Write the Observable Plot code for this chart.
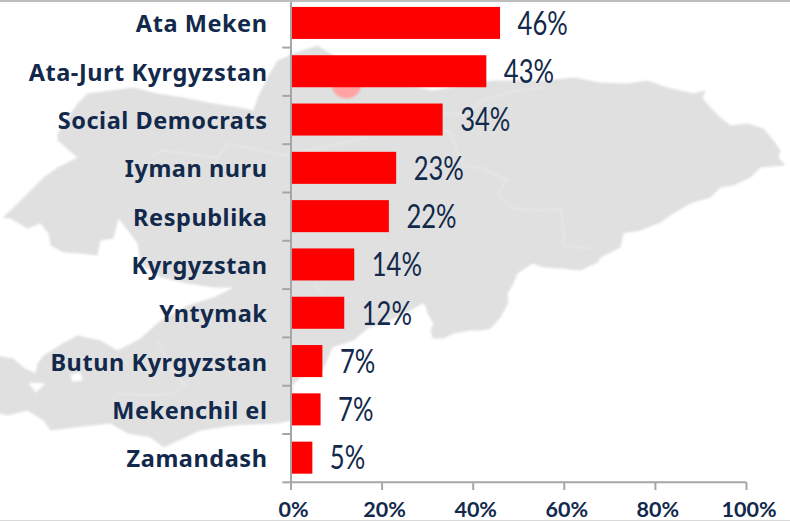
<!DOCTYPE html>
<html>
<head>
<meta charset="utf-8">
<script src="https://cdn.jsdelivr.net/npm/d3@7"></script>
<script src="https://cdn.jsdelivr.net/npm/@observablehq/plot@0.6"></script>
<style>
html,body{margin:0;padding:0;background:#fff}
#stage{position:relative;width:790px;height:521px;overflow:hidden;background:#fff}
#stage svg{position:absolute;left:0;top:0;overflow:visible}
#map svg{filter:blur(0.9px)}
#edge-top,#edge-bottom{position:absolute;left:0;width:790px;background:#bdbdbd}
#edge-top{top:0;height:2px}
#edge-bottom{top:520px;height:1px;background:#d9d9d9}
g[aria-label="y-axis tick label"] text{letter-spacing:.55px}
</style>
</head>
<body>
<div id="stage"><div id="map"></div><div id="chart"></div><div id="edge-top"></div><div id="edge-bottom"></div></div>
<script>
const parties = ["Ata Meken","Ata-Jurt Kyrgyzstan","Social Democrats","Iyman nuru","Respublika","Kyrgyzstan","Yntymak","Butun Kyrgyzstan","Mekenchil el","Zamandash"];
const barValues = [46,43,33.4,23.2,21.6,14,11.8,7,6.6,4.8];
const valueLabels = ["46%","43%","34%","23%","22%","14%","12%","7%","7%","5%"];
const xTicks = [0,20,40,60,80,100];

// Kyrgyzstan silhouette: [longitude, latitude]
const countryOutline = [[69.228,41.53],[69.382,41.63],[69.62,41.80],[69.802,41.93],[69.998,42.03],[70.278,42.13],[69.998,42.30],[69.998,42.37],[70.278,42.67],[70.418,42.77],[70.74,42.80],[71.062,42.83],[71.398,42.77],[71.762,42.73],[72.182,42.67],[72.56,42.63],[72.742,42.60],[72.798,42.73],[72.938,42.93],[73.078,43.10],[73.302,43.17],[73.638,43.25],[73.82,43.17],[73.96,43.10],[74.52,42.95],[74.94,42.85],[75.262,42.80],[75.57,42.84],[75.92,42.88],[76.102,42.90],[76.438,42.90],[76.802,42.90],[77.222,42.93],[77.6,42.88],[77.978,42.87],[78.258,42.90],[78.538,42.83],[78.902,42.77],[79.07,42.80],[79.028,42.72],[79.14,42.63],[79.28,42.53],[79.42,42.45],[79.658,42.47],[79.882,42.42],[80.022,42.30],[80.12,42.20],[80.092,42.13],[80.19,42.05],[79.84,42.03],[79.70,41.93],[79.462,41.85],[79.28,41.83],[79.14,41.73],[78.86,41.67],[78.622,41.57],[78.44,41.48],[78.16,41.40],[77.922,41.37],[77.88,41.23],[77.6,41.13],[77.558,41.08],[77.32,41.00],[77.04,41.02],[76.802,41.03],[76.648,41.07],[76.438,40.97],[76.382,40.87],[76.298,40.77],[76.312,40.68],[76.2,40.53],[76.06,40.42],[75.948,40.40],[75.78,40.40],[75.542,40.37],[75.402,40.32],[75.248,40.32],[75.22,40.40],[75.262,40.47],[75.178,40.57],[75.15,40.65],[75.108,40.67],[74.94,40.60],[74.59,40.48],[74.338,40.42],[74.142,40.30],[73.848,40.23],[73.708,40.00],[73.4,39.93],[73.288,39.85],[73.274,39.50],[73.078,39.47],[72.462,39.45],[72.0,39.40],[71.482,39.23],[71.3,39.33],[70.978,39.37],[70.74,39.47],[70.222,39.43],[69.9,39.40],[69.802,39.50],[69.578,39.60],[69.298,39.55],[69.13,39.58],[69.13,40.15],[69.382,40.12],[69.522,40.03],[69.69,39.97],[69.718,40.07],[69.802,40.15],[70.068,40.27],[70.278,40.35],[70.6,40.30],[70.838,40.20],[71.16,40.32],[71.44,40.50],[71.818,40.65],[72.182,40.73],[72.462,40.83],[72.182,40.83],[71.818,40.87],[71.44,40.93],[71.16,41.07],[71.118,41.27],[70.95,41.43],[70.852,41.52],[70.782,41.32],[70.6,41.30],[70.558,41.15],[70.32,41.17],[70.082,41.18],[69.9,41.25],[69.872,41.37],[69.76,41.47],[69.578,41.42],[69.34,41.52],[69.228,41.53]];
const enclaves = [
  [[70.18,39.96],[70.208,39.89],[70.348,39.90],[70.32,39.98],[70.18,39.96]],
  [[69.592,39.88],[69.69,39.78],[69.83,39.87],[69.592,39.88]]
];
const regionBorders = [
  [[76.802,42.83],[76.438,42.80],[75.92,42.70],[75.78,42.57],[75.402,42.57]],
  [[75.402,42.40],[75.5,42.38],[75.57,42.23],[75.682,42.05],[75.962,42.02],[76.298,41.90],[76.158,41.77],[76.382,41.62],[76.76,41.60],[77.04,41.62],[77.082,41.43],[77.082,41.25],[77.46,41.22]],
  [[74.338,42.33],[73.68,42.23],[73.162,42.15],[72.378,42.27],[72.238,42.13],[71.44,42.20],[71.3,42.13]],
  [[73.582,40.87],[73.722,40.77]],
  [[70.74,39.70],[70.88,39.77],[71.202,39.75],[71.622,39.77],[71.79,39.85],[71.58,40.03],[71.398,40.30]]
];
const capital = [{lon:74.044,lat:42.87}];

const mapProjection = d3.geoTransform({
  point(lon, lat) { this.stream.point((lon - 69.2) / 0.014, (43.7 - lat) * 100); }
});

const mapPlot = Plot.plot({
  width: 790, height: 521, margin: 0,
  style: {background: "transparent"},
  projection: mapProjection,
  marks: [
    Plot.geo({type: "Polygon", coordinates: [countryOutline, ...enclaves]}, {fill: "#e0e0e0", stroke: "none"}),
    Plot.geo({type: "MultiLineString", coordinates: regionBorders}, {fill: "none", stroke: "#e9e9e9", strokeWidth: 1.5}),
    Plot.dot(capital, {x: "lon", y: "lat", r: 15, fill: "#ffa3a3", stroke: "none"})
  ]
});
document.getElementById("map").append(mapPlot);

const ink = "#12294b", axisGray = "#a6a6a6";
const table = parties.map((party, i) => ({party, value: barValues[i], label: valueLabels[i]}));
const halfStep = 48.3 / 2;

const chart = Plot.plot({
  width: 790, height: 521,
  marginTop: 0, marginBottom: 39, marginLeft: 290.5, marginRight: 44,
  style: {background: "transparent"},
  x: {domain: [0, 100], range: [290.5, 746]},
  y: {domain: parties, range: [-1.2, 481.8], paddingInner: 0.337, paddingOuter: 0.168, align: 0.5, round: false},
  marks: [
    Plot.barX(table, {x: "value", y: "party", fill: "#ff0000"}),
    Plot.ruleY(parties, {y: d => d, x1: -1.8, x2: 0, dy: halfStep, stroke: axisGray, strokeWidth: 2}),
    Plot.ruleY(parties.slice(-1), {y: d => d, x1: 0, x2: 100, dy: halfStep, stroke: axisGray, strokeWidth: 2}),
    Plot.ruleX([0], {stroke: axisGray, strokeWidth: 2}),
    Plot.axisY({anchor: "left", label: null, tickSize: 0, tickPadding: 23.5, dy: 1.5, fontSize: 23.5, fontWeight: 700, fontFamily: "Noto Sans", fill: ink}),
    Plot.axisX({anchor: "bottom", label: null, ticks: xTicks, text: null, tickSize: 8, stroke: axisGray, strokeWidth: 2}),
    Plot.axisX({anchor: "bottom", label: null, ticks: xTicks, tickFormat: d => d + "%", tickSize: 0, tickPadding: 19.5, dx: 2.5, fontSize: 21.5, fontWeight: 700, fontFamily: "Lato", fill: ink}),
    Plot.text(table, {x: "value", y: "party", text: "label", textAnchor: "start", dx: 17, dy: 1, fontSize: 32, fontFamily: "Lato", fill: ink})
  ]
});
document.getElementById("chart").append(chart);
// The reference's value labels use a condensed face: narrow the glyphs to match.
d3.select(chart).selectAll('g[aria-label="text"] text').each(function () {
  this.setAttribute("textLength", this.getComputedTextLength() * 0.8);
  this.setAttribute("lengthAdjust", "spacingAndGlyphs");
});
</script>
</body>
</html>
